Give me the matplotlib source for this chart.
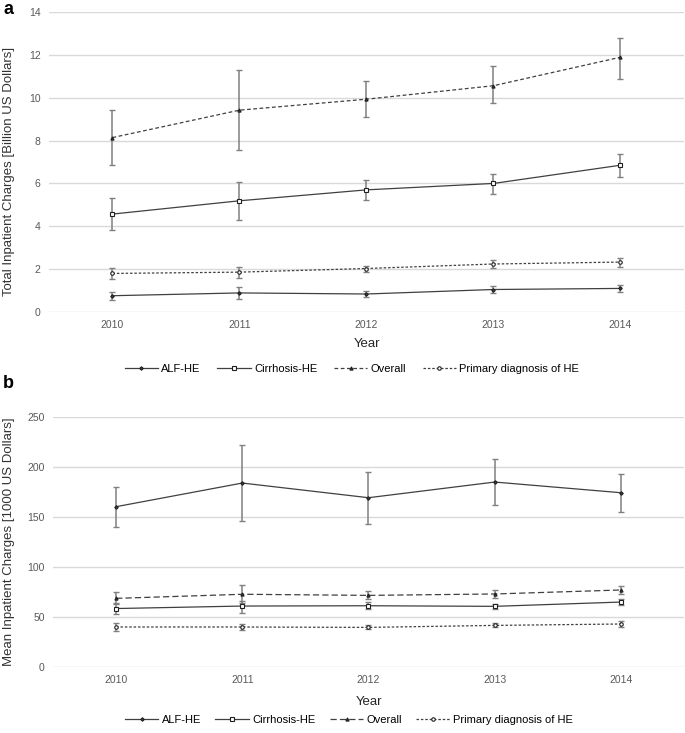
import numpy as np
import matplotlib
matplotlib.use("Agg")
import matplotlib.pyplot as plt

plt.rcParams['font.family'] = ['Liberation Sans', 'DejaVu Sans']

years = [2010, 2011, 2012, 2013, 2014]
labels = ['ALF-HE', 'Cirrhosis-HE', 'Overall', 'Primary diagnosis of HE']

# panel a: total charges (billion USD), value, upper, lower
tot_alf = [0.76, 0.89, 0.84, 1.05, 1.10]
tot_alf_hi = [0.93, 1.18, 0.99, 1.21, 1.26]
tot_alf_lo = [0.57, 0.62, 0.68, 0.90, 0.93]
tot_cir = [4.57, 5.19, 5.70, 6.00, 6.85]
tot_cir_hi = [5.31, 6.07, 6.17, 6.46, 7.39]
tot_cir_lo = [3.82, 4.29, 5.25, 5.53, 6.29]
tot_all = [8.14, 9.42, 9.93, 10.56, 11.89]
tot_all_hi = [9.42, 11.28, 10.80, 11.50, 12.77]
tot_all_lo = [6.88, 7.55, 9.09, 9.77, 10.89]
tot_pri = [1.80, 1.86, 2.03, 2.24, 2.33]
tot_pri_hi = [2.05, 2.11, 2.17, 2.41, 2.53]
tot_pri_lo = [1.54, 1.60, 1.88, 2.07, 2.11]

# panel b: mean charges (1000 USD)
mean_alf = [160.4, 184.1, 169.4, 185.1, 174.4]
mean_alf_hi = [180.4, 221.9, 194.9, 208.2, 193.5]
mean_alf_lo = [139.7, 145.7, 143.3, 161.8, 155.1]
mean_cir = [58.3, 60.8, 61.1, 60.5, 64.8]
mean_cir_hi = [64.0, 66.0, 64.5, 62.8, 67.5]
mean_cir_lo = [52.5, 54.1, 57.8, 58.1, 61.8]
mean_all = [68.5, 72.6, 71.5, 72.9, 76.9]
mean_all_hi = [75.2, 82.2, 75.5, 76.5, 81.3]
mean_all_lo = [62.4, 63.6, 67.5, 69.2, 72.9]
mean_pri = [39.8, 39.8, 39.4, 41.4, 42.8]
mean_pri_hi = [43.5, 43.1, 41.4, 43.5, 45.8]
mean_pri_lo = [36.1, 36.4, 37.4, 39.4, 40.1]

LINE = '#404040'
ERR = '#808080'
TICK = '#595959'

styles = [
    dict(ls='-', marker='D', ms=1.8, mfc=LINE),
    dict(ls='-', marker='s', ms=2.6, mfc='white'),
    dict(ls=(0, (3, 2)), marker='^', ms=2.3, mfc=LINE),
    dict(ls=(0, (2, 1.5)), marker='o', ms=2.5, mfc='white'),
]


def panel(ax, series, ylim, yticks, ylabel, label_xy, xpad, dash_all=None):
    x = np.array(years)
    handles = []
    for i, (v, hi, lo) in enumerate(series):
        v, hi, lo = np.array(v), np.array(hi), np.array(lo)
        st = dict(styles[i])
        if i == 2 and dash_all is not None:
            st['ls'] = dash_all
        ax.errorbar(x, v, yerr=[v - lo, hi - v], fmt='none', ecolor=ERR,
                    elinewidth=1.1, capsize=2.5, capthick=1.0, zorder=2)
        h, = ax.plot(x, v, color=LINE, lw=0.9, ls=st['ls'], marker=st['marker'],
                     ms=st['ms'], mfc=st['mfc'], mec='#202020', mew=0.8,
                     label=labels[i], zorder=3)
        handles.append(h)
    ax.set_xlim(2009.5, 2014.5)
    ax.set_ylim(*ylim)
    ax.set_yticks(yticks)
    ax.set_xticks(years)
    ax.grid(axis='y', color='#d9d9d9', lw=1.0)
    ax.set_axisbelow(True)
    for s in ax.spines.values():
        s.set_visible(False)
    ax.tick_params(length=0, labelsize=7.5, labelcolor=TICK, pad=6)
    ax.set_ylabel(ylabel, fontsize=9.5, color='#333333')
    ax.yaxis.set_label_coords(*label_xy)
    ax.set_xlabel('Year', fontsize=9.5, color='#262626', labelpad=xpad)
    return handles


fig = plt.figure(figsize=(6.85, 7.33), dpi=100)

ax1 = fig.add_axes([49 / 685, 1 - 312 / 733, 635 / 685, 300 / 733])
h1 = panel(ax1,
           [(tot_alf, tot_alf_hi, tot_alf_lo), (tot_cir, tot_cir_hi, tot_cir_lo),
            (tot_all, tot_all_hi, tot_all_lo), (tot_pri, tot_pri_hi, tot_pri_lo)],
           (0, 14), range(0, 15, 2), 'Total Inpatient Charges [Billion US Dollars]',
           label_xy=(-0.054, 0.47), xpad=5.5)
fig.legend(handles=h1, loc='center', bbox_to_anchor=(352 / 685, 1 - 369 / 733),
           ncol=4, frameon=False, fontsize=8, handlelength=3.0, columnspacing=1.5,
           handletextpad=0.3)

ax2 = fig.add_axes([53 / 685, 1 - 666.7 / 733, 631 / 685, 249.4 / 733])
h2 = panel(ax2,
           [(mean_alf, mean_alf_hi, mean_alf_lo), (mean_cir, mean_cir_hi, mean_cir_lo),
            (mean_all, mean_all_hi, mean_all_lo), (mean_pri, mean_pri_hi, mean_pri_lo)],
           (0, 250), range(0, 251, 50), 'Mean Inpatient Charges [1000 US Dollars]',
           label_xy=(-0.061, 0.5), xpad=8, dash_all=(0, (5, 2.5)))
fig.legend(handles=h2, loc='center', bbox_to_anchor=(349 / 685, 1 - 720 / 733),
           ncol=4, frameon=False, fontsize=8, handlelength=3.0, columnspacing=1.3,
           handletextpad=0.3)

fig.text(3 / 685, 1 - 9 / 733, 'a', fontsize=13, fontweight='bold', va='center')
fig.text(3 / 685, 1 - 383 / 733, 'b', fontsize=13, fontweight='bold', va='center')

fig.savefig('out.png', dpi=100)
